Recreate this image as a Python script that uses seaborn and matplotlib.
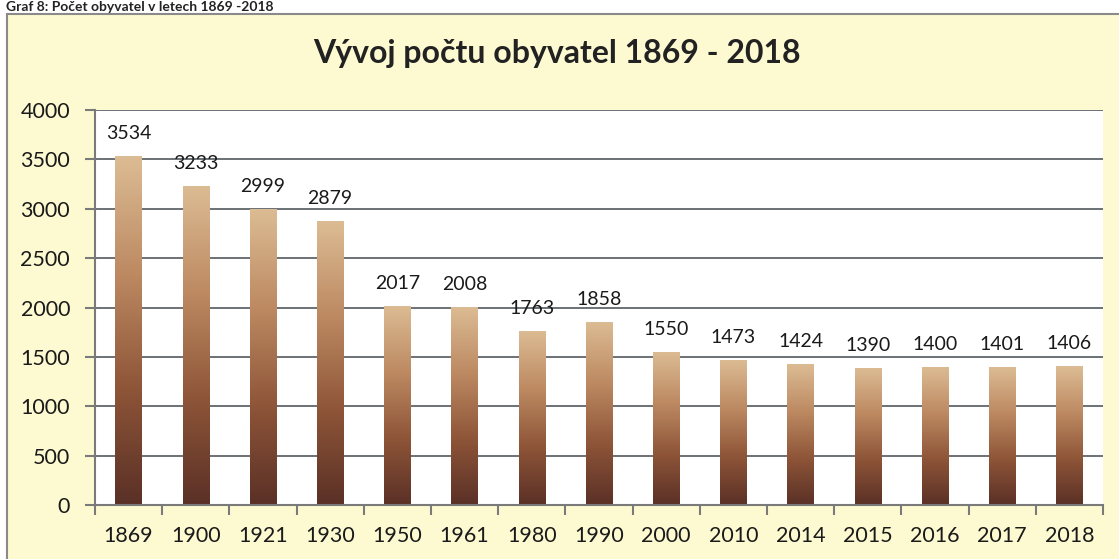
import numpy as np
import pandas as pd
import matplotlib
matplotlib.use('Agg')
import matplotlib.pyplot as plt
import seaborn as sns
from matplotlib.colors import LinearSegmentedColormap
from matplotlib.patches import Rectangle

# data
years = ['1869', '1900', '1921', '1930', '1950', '1961', '1980', '1990',
         '2000', '2010', '2014', '2015', '2016', '2017', '2018']
population = [3534, 3233, 2999, 2879, 2017, 2008, 1763, 1858,
              1550, 1473, 1424, 1390, 1400, 1401, 1406]
y_ticks = [0, 500, 1000, 1500, 2000, 2500, 3000, 3500, 4000]

df = pd.DataFrame({'rok': years, 'obyvatel': population})

sns.set_theme(style='white')
plt.rcParams['font.family'] = ['Lato', 'DejaVu Sans']

fig = plt.figure(figsize=(11.19, 5.59), dpi=100)
fig.patch.set_facecolor('white')

# chart frame (pale yellow box, cut off at right/bottom like the scan)
frame = Rectangle((7 / 1119, -0.1), 1.2, 0.1 + 1 - 14 / 559, transform=fig.transFigure,
                  facecolor='#fdfad2', edgecolor='#8a8a8a', linewidth=1.5, zorder=-5)
fig.patches.append(frame)

# caption above the frame
fig.text(6 / 1119, 1 - 11 / 559, 'Graf 8: Počet obyvatel v letech 1869 -2018',
         fontsize=10, fontweight='bold', color='#222222', ha='left', va='baseline')

fig.text(557 / 1119, 1 - 53 / 559, 'Vývoj počtu obyvatel 1869 - 2018',
         fontsize=23, fontweight='bold', color='#222222', ha='center', va='center')

ax = fig.add_axes([95 / 1119, 1 - 505 / 559, (1103 - 95) / 1119, (505 - 110) / 559])
ax.set_zorder(2)
ax.set_facecolor('white')

sns.barplot(data=df, x='rok', y='obyvatel', ax=ax, width=0.39, color='#b07a55',
            zorder=2)

# gradient fill for each bar
cmap = LinearSegmentedColormap.from_list('hneda', ['#5a3026', '#8e5538', '#bd8a62', '#dcbc94'])
grad = np.linspace(0, 1, 256).reshape(-1, 1)
for p in ax.patches:
    x0, w, h = p.get_x(), p.get_width(), p.get_height()
    im = ax.imshow(grad, cmap=cmap, aspect='auto', origin='lower',
                   extent=(x0, x0 + w, 0, h), zorder=2)
    im.set_clip_path(p)
    p.set_facecolor('none')
    p.set_edgecolor('none')
    ax.annotate(f'{int(round(h))}', (x0 + w / 2, h), xytext=(0, 10),
                textcoords='offset points', ha='center', va='bottom',
                fontsize=14, color='#1a1a1a')

ax.set_xlim(-0.5, len(years) - 0.5)
ax.set_ylim(0, 4000)
ax.set_yticks(y_ticks)
ax.yaxis.grid(True, color='#5f666a', linewidth=1.3)
ax.set_axisbelow(True)

ax.set_xlabel('')
ax.set_ylabel('')
for s in ['top', 'right']:
    ax.spines[s].set_visible(False)
for s in ['left', 'bottom']:
    ax.spines[s].set_color('#7a7a7a')
    ax.spines[s].set_linewidth(1.5)

# tick marks between categories
ax.set_xticks(np.arange(-0.5, len(years)), minor=True)
ax.tick_params(axis='x', which='major', length=0, pad=15, labelsize=15.5, labelcolor='#1a1a1a')
ax.tick_params(axis='x', which='minor', length=7, width=1.5, color='#7a7a7a', direction='out', bottom=True)
ax.tick_params(axis='y', length=7, width=1.5, color='#7a7a7a', direction='out', left=True,
               pad=11, labelsize=15.5, labelcolor='#1a1a1a')

fig.savefig('out.png', dpi=100)
